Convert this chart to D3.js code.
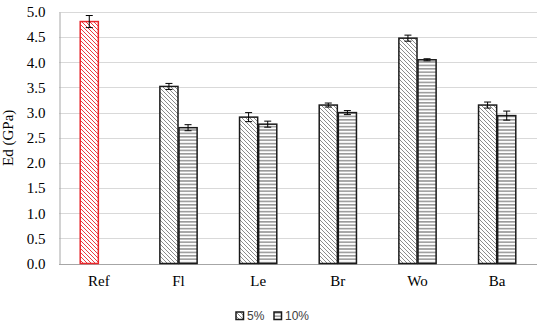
<!DOCTYPE html>
<html>
<head>
<meta charset="utf-8">
<script src="https://cdn.jsdelivr.net/npm/d3@7"></script>
<style>
  body { margin: 0; background: #fff; }
  svg { display: block; }
</style>
</head>
<body>
<script>
// data
const categories = ['Ref', 'Fl', 'Le', 'Br', 'Wo', 'Ba'];
const seriesNames = ['5%', '10%'];
const values5 = [4.81, 3.52, 2.91, 3.15, 4.48, 3.15];
const errors5 = [0.12, 0.06, 0.09, 0.04, 0.06, 0.06];
const values10 = [null, 2.70, 2.77, 3.00, 4.05, 2.94];
const errors10 = [null, 0.06, 0.06, 0.04, 0.02, 0.09];
const yTicks = [0, 0.5, 1, 1.5, 2, 2.5, 3, 3.5, 4, 4.5, 5];

const width = 550;
const height = 329;
const margin = {top: 12, right: 13, bottom: 65.5, left: 59};

let svg = d3.select('body').append('svg')
  .attr('width', width)
  .attr('height', height);

const defs = svg.append('defs');

// diagonal hatch
const diag = (id, color) => {
  let p = defs.append('pattern')
    .attr('id', id)
    .attr('patternUnits', 'userSpaceOnUse')
    .attr('width', 4).attr('height', 4);
  p.append('rect').attr('width', 4).attr('height', 4).attr('fill', '#fff');
  p.append('path')
    .attr('d', 'M-1,-1 L5,5 M-1,3 L1,5 M3,-1 L5,1')
    .attr('stroke', color).attr('stroke-width', 0.9);
};
diag('diag-grey', '#7f7f7f');
diag('diag-red', '#e8262b');

let hp = defs.append('pattern')
  .attr('id', 'horiz')
  .attr('patternUnits', 'userSpaceOnUse')
  .attr('width', 4).attr('height', 3.4);
hp.append('rect').attr('width', 4).attr('height', 3.4).attr('fill', '#fff');
hp.append('rect').attr('y', 0).attr('width', 4).attr('height', 1.6).attr('fill', '#9a9a9a');

const x0 = d3.scaleBand()
  .domain(categories)
  .range([margin.left, width - margin.right])
  .paddingInner(0.52)
  .paddingOuter(0.26);

const x1 = d3.scaleBand()
  .domain(seriesNames)
  .range([0, x0.bandwidth()]);

const y = d3.scaleLinear()
  .domain([0, 5])
  .range([height - margin.bottom, margin.top]);

// gridlines
svg.append('g')
  .selectAll('line')
  .data(yTicks.filter(d => d > 0))
  .enter()
  .append('line')
  .attr('x1', margin.left)
  .attr('x2', width - margin.right)
  .attr('y1', d => Math.round(y(d)) + 0.5)
  .attr('y2', d => Math.round(y(d)) + 0.5)
  .attr('stroke', '#d9d9d9')
  .attr('stroke-width', 1);

// y axis
let yAxis = svg.append('g')
  .attr('transform', `translate(${margin.left + 0.5},0)`)
  .call(d3.axisLeft(y).tickValues(yTicks).tickFormat(d3.format('.1f')).tickSize(0).tickPadding(14));
yAxis.select('.domain').attr('stroke', '#a6a6a6');
yAxis.selectAll('text')
  .attr('font-family', '"Liberation Serif", "Times New Roman", serif')
  .attr('font-size', 15)
  .attr('fill', '#000');

// x axis
let xAxis = svg.append('g')
  .attr('transform', `translate(0,${Math.round(y(0)) + 0.5})`)
  .call(d3.axisBottom(x0).tickSize(0).tickPadding(11));
xAxis.select('.domain').attr('stroke', '#a6a6a6').attr('d', `M${margin.left},0H${width - margin.right}`);
xAxis.selectAll('text')
  .attr('font-family', '"Liberation Serif", "Times New Roman", serif')
  .attr('font-size', 15)
  .attr('fill', '#000');

// y title
svg.append('text')
  .attr('transform', `translate(13,${y(2.5)}) rotate(-90)`)
  .attr('text-anchor', 'middle')
  .attr('font-family', '"Liberation Serif", "Times New Roman", serif')
  .attr('font-size', 15)
  .text('Ed (GPa)');

// bars
const rows = [];
categories.forEach((c, i) => {
  rows.push({cat: c, s: '5%', v: values5[i], e: errors5[i]});
  if (values10[i] != null) rows.push({cat: c, s: '10%', v: values10[i], e: errors10[i]});
});

const fillOf = d => d.cat === 'Ref' ? 'url(#diag-red)' : (d.s === '5%' ? 'url(#diag-grey)' : 'url(#horiz)');
const strokeOf = d => d.cat === 'Ref' ? '#e8262b' : '#1a1a1a';

svg.append('g')
  .selectAll('rect')
  .data(rows)
  .enter()
  .append('rect')
  .attr('x', d => x0(d.cat) + x1(d.s) + 0.5)
  .attr('y', d => y(d.v))
  .attr('width', x1.bandwidth() - 1)
  .attr('height', d => y(0) - y(d.v))
  .attr('fill', fillOf)
  .attr('stroke', strokeOf)
  .attr('stroke-width', 1.5);

// error bars
let eb = svg.append('g')
  .selectAll('g')
  .data(rows)
  .enter()
  .append('g')
  .attr('stroke', '#000')
  .attr('stroke-width', 1);
const cx = d => x0(d.cat) + x1(d.s) + x1.bandwidth() / 2;
eb.append('line')
  .attr('x1', cx).attr('x2', cx)
  .attr('y1', d => y(d.v + d.e)).attr('y2', d => y(d.v - d.e));
eb.append('line')
  .attr('x1', d => cx(d) - 3.5).attr('x2', d => cx(d) + 3.5)
  .attr('y1', d => y(d.v + d.e)).attr('y2', d => y(d.v + d.e));
eb.append('line')
  .attr('x1', d => cx(d) - 3.5).attr('x2', d => cx(d) + 3.5)
  .attr('y1', d => y(d.v - d.e)).attr('y2', d => y(d.v - d.e));

// legend
const legendX = [236, 274];
let lg = svg.append('g')
  .selectAll('g')
  .data(seriesNames)
  .enter()
  .append('g')
  .attr('transform', (d, i) => `translate(${legendX[i]},312)`);
lg.append('rect')
  .attr('width', 7.5).attr('height', 7.5)
  .attr('fill', (d, i) => i === 0 ? 'url(#diag-grey)' : 'url(#horiz)')
  .attr('stroke', '#1a1a1a')
  .attr('stroke-width', 1.5);
lg.append('text')
  .attr('x', 11)
  .attr('y', 8)
  .attr('font-family', '"Liberation Sans", Arial, sans-serif')
  .attr('font-size', 12)
  .attr('fill', '#404040')
  .text(d => d);
</script>
</body>
</html>
